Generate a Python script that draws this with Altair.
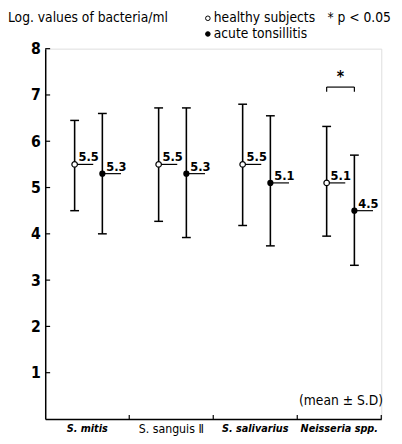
import altair as alt
import pandas as pd

categories = ["S. mitis", "S. sanguis Ⅱ", "S. salivarius", "Neisseria spp."]
italic_cat = [True, False, True, True]
healthy_mean = [5.5, 5.5, 5.5, 5.1]
healthy_low = [4.5, 4.27, 4.18, 3.95]
healthy_high = [6.45, 6.72, 6.8, 6.32]
acute_mean = [5.3, 5.3, 5.1, 4.5]
acute_low = [4.0, 3.92, 3.74, 3.32]
acute_high = [6.6, 6.72, 6.55, 5.7]
y_ticks = [1, 2, 3, 4, 5, 6, 7, 8]
x_ticks = [1, 2, 3, 4]
sig_y = 7.17

FONT = "DejaVu Sans Condensed, DejaVu Sans, sans-serif"
W, H = 343, 378
UNIT = W / 4.0

rows = []
for i, c in enumerate(categories):
    for g, m, lo, hi, off in [
        ("healthy", healthy_mean[i], healthy_low[i], healthy_high[i], 0.35),
        ("acute", acute_mean[i], acute_low[i], acute_high[i], 0.68),
    ]:
        x = i + off
        rows.append(dict(cat=c, group=g, x=x, mean=m, low=lo, high=hi,
                         label=f"{m:.1f}",
                         cap_l=x - 4.5 / UNIT, cap_r=x + 4.5 / UNIT,
                         line_r=x + 19 / UNIT, text_x=x + 4 / UNIT))
df = pd.DataFrame(rows)
cat_df = pd.DataFrame({"cat": categories, "x": [i + 0.5 for i in range(4)],
                       "italic": italic_cat})

xs = alt.Scale(domain=[0, 4], nice=False, zero=False)
ys = alt.Scale(domain=[0, 8], nice=False)
X = lambda f: alt.X(f, type="quantitative", scale=xs,
                    axis=alt.Axis(labels=False, ticks=False, grid=False, title=None,
                                  domainColor="black", domainWidth=1.5))
Y = lambda f: alt.Y(f, type="quantitative", scale=ys,
                    axis=alt.Axis(values=y_ticks, ticks=False, grid=False, title=None,
                                  labelFont=FONT, labelFontSize=16, labelFontWeight="bold",
                                  labelColor="black", labelPadding=5,
                                  domainColor="black", domainWidth=1.5))

base = alt.Chart(df)
vert = base.mark_rule(color="black", strokeWidth=1.6).encode(x=X("x"), y=Y("low"), y2="high")
cap_top = base.mark_rule(color="black", strokeWidth=1.5).encode(x=X("cap_l"), x2="cap_r", y=Y("high"))
cap_bot = base.mark_rule(color="black", strokeWidth=1.5).encode(x=X("cap_l"), x2="cap_r", y=Y("low"))
mline = base.mark_rule(color="black", strokeWidth=1.2).encode(x=X("x"), x2="line_r", y=Y("mean"))
pts_h = base.transform_filter(alt.datum.group == "healthy").mark_point(
    shape="circle", filled=True, fill="white", stroke="black", strokeWidth=1.2, size=32, opacity=1
).encode(x=X("x"), y=Y("mean"))
pts_a = base.transform_filter(alt.datum.group == "acute").mark_point(
    shape="circle", filled=True, fill="black", size=40, opacity=1
).encode(x=X("x"), y=Y("mean"))
mtext = base.mark_text(font=FONT, fontSize=13, fontWeight="bold", align="left",
                       baseline="alphabetic", dy=-3, color="black").encode(
    x=X("text_x"), y=Y("mean"), text="label:N")

cats = alt.Chart(cat_df)
cat_it = cats.transform_filter(alt.datum.italic == True).mark_text(
    font=FONT, fontSize=11, fontWeight="bold", fontStyle="italic", baseline="middle", color="black"
).encode(x=X("x"), y=alt.value(H + 10), text="cat:N")
cat_rm = cats.transform_filter(alt.datum.italic == False).mark_text(
    font=FONT, fontSize=12.5, baseline="middle", color="black"
).encode(x=X("x"), y=alt.value(H + 10), text="cat:N")

yt = alt.Chart(pd.DataFrame({"v": y_ticks})).mark_rule(color="black", strokeWidth=1.2).encode(
    x=alt.value(0), x2=alt.value(5), y=Y("v"))
xt = alt.Chart(pd.DataFrame({"v": x_ticks})).mark_rule(color="black", strokeWidth=1.2).encode(
    x=X("v"), y=alt.value(H), y2=alt.value(H - 4))

nd = df[df.cat == categories[3]]
hx, ax_ = float(nd.x.iloc[0]), float(nd.x.iloc[1])
sig_df = pd.DataFrame({"x1": [hx], "x2": [ax_], "y": [sig_y], "ylo": [sig_y - 0.1],
                       "xm": [(hx + ax_) / 2], "ys": [sig_y + 0.1]})
sig = alt.Chart(sig_df)
sig_h = sig.mark_rule(color="black", strokeWidth=1.2).encode(x=X("x1"), x2="x2", y=Y("y"))
sig_l = sig.mark_rule(color="black", strokeWidth=1.2).encode(x=X("x1"), y=Y("ylo"), y2="y")
sig_r = sig.mark_rule(color="black", strokeWidth=1.2).encode(x=X("x2"), y=Y("ylo"), y2="y")
sig_s = sig.mark_text(text="*", font=FONT, fontSize=16, fontWeight="bold", baseline="alphabetic",
                      color="black").encode(x=X("xm"), y=Y("ys"))

def txt(s, x, y, size=14, align="left", weight="normal"):
    return alt.Chart(pd.DataFrame({"t": [s]})).mark_text(
        font=FONT, fontSize=size, align=align, baseline="middle", color="black", fontWeight=weight
    ).encode(x=alt.value(x), y=alt.value(y), text="t:N")

title = txt("Log. values of bacteria/ml", -38, -31, 14)
leg_h = txt("healthy subjects", 172, -31, 14)
leg_a = txt("acute tonsillitis", 172, -15, 14)
leg_p = txt("* p < 0.05", 288, -31, 14)
msd = txt("(mean ± S.D)", 259, 360, 14)
leg_pts = alt.Chart(pd.DataFrame({"g": ["healthy", "acute"], "py": [-31, -15]})).mark_point(
    shape="circle", filled=True, stroke="black", strokeWidth=1, size=22, opacity=1
).encode(x=alt.value(166), y=alt.value(0), yOffset=alt.YOffset("py:Q", scale=None),
         fill=alt.Fill("g:N", scale=alt.Scale(domain=["healthy", "acute"], range=["white", "black"]),
                       legend=None))

chart = alt.layer(
    vert, cap_top, cap_bot, mline, pts_h, pts_a, mtext, cat_it, cat_rm, yt, xt,
    sig_h, sig_l, sig_r, sig_s, title, leg_h, leg_a, leg_p, msd, leg_pts
).properties(
    width=W, height=H, autosize=alt.AutoSizeParams(type="none"),
    padding={"left": 38, "top": 37, "right": 13, "bottom": 20}
).configure_view(stroke=None).configure(background="white")

chart.save("out.html", embed_options={"renderer": "svg", "actions": False})
